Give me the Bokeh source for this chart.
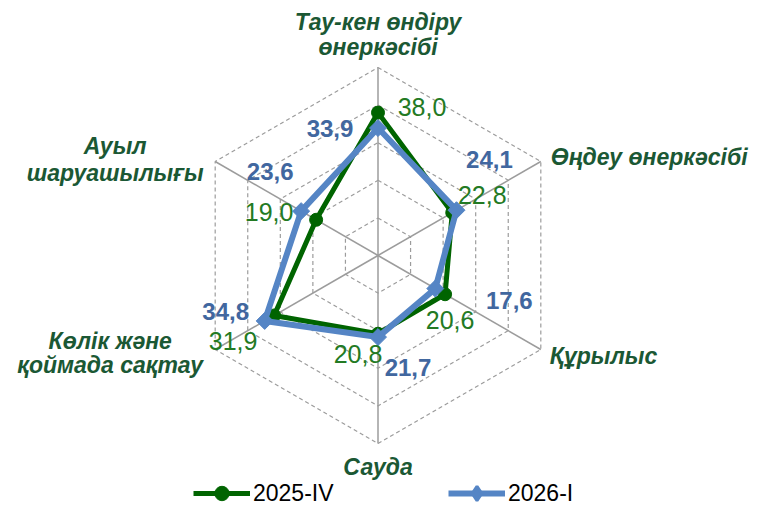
import numpy as np
from bokeh.plotting import figure
from bokeh.models import Legend, LegendItem
from bokeh.core.properties import value
from bokeh.embed import file_html
from bokeh.resources import INLINE

# ---- data ----
categories = ["Тау-кен өндіру\nөнеркәсібі", "Өңдеу өнеркәсібі", "Құрылыс",
              "Сауда", "Көлік және\nқоймада сақтау", "Ауыл\nшаруашылығы"]
series_names = ["2025-IV", "2026-I"]
values_2025_iv = [38.0, 22.8, 20.6, 20.8, 31.9, 19.0]
values_2026_i = [33.9, 24.1, 17.6, 21.7, 34.8, 23.6]
ring_ticks = [10, 20, 30, 40, 50]

# ---- layout / style ----
W, H = 759, 506
S = 3.76              # pixels per unit
CX, CY = 377.5, 255   # centre in figure pixels (from left, from top)
FONT = "Liberation Sans"
GREEN_LINE = "#006400"
BLUE_LINE = "#5585C5"
GREEN_TXT = "#237A23"
BLUE_TXT = "#41679F"
CAT_TXT = "#1B5834"
GRID = "#9C9C9C"

# pixel offsets (right, down) of value labels from their points
off_2025 = [(44, -6), (30, -18), (5, 26), (-20, 20), (-41, 26), (-47, -8)]
off_2026 = [(-48, 0), (33, -51), (74, 12), (30, 30), (-39, -9), (-31, -40)]
# category label: (dx, dy per line, align) from outer vertex
cat_off = [(0, [-46, -21], "center"), (10, [-5], "left"), (9, [6], "left"),
           (0, [23], "center"), (-105, [-9, 15], "center"), (-100, [-16, 11], "center")]

n = len(categories)
theta = np.pi / 2 - np.arange(n) * 2 * np.pi / n
rmax = max(ring_ticks)

p = figure(width=W, height=H, output_backend="svg", toolbar_location=None,
           x_range=(-CX / S, (W - CX) / S), y_range=(-(H - CY) / S, CY / S),
           min_border=0, outline_line_color=None)
p.axis.visible = False
p.grid.visible = False
p.background_fill_color = None
p.border_fill_color = "white"

# rings
for r in ring_ticks:
    xs = list(r * np.cos(theta)) + [r * np.cos(theta[0])]
    ys = list(r * np.sin(theta)) + [r * np.sin(theta[0])]
    p.line(xs, ys, line_color=GRID, line_width=1.2, line_dash="4 3")
# spokes
p.segment(x0=[0] * n, y0=[0] * n, x1=list(rmax * np.cos(theta)), y1=list(rmax * np.sin(theta)),
          line_color=GRID, line_width=1.5)

def closed(vals):
    v = np.array(vals)
    x = v * np.cos(theta)
    y = v * np.sin(theta)
    return list(x) + [x[0]], list(y) + [y[0]], x, y

gx, gy, gpx, gpy = closed(values_2025_iv)
bx, by, bpx, bpy = closed(values_2026_i)

gl = p.line(gx, gy, line_color=GREEN_LINE, line_width=5)
gs = p.scatter(list(gpx), list(gpy), marker="circle", size=13, fill_color=GREEN_LINE, line_color=GREEN_LINE)
bl = p.line(bx, by, line_color=BLUE_LINE, line_width=6)
# diamond renderer used for the legend glyph (hidden under the rotated squares)
bs_leg = p.scatter(list(bpx), list(bpy), marker="diamond", size=10, fill_color=BLUE_LINE,
                   line_color=BLUE_LINE, line_width=3)
bs = p.scatter(list(bpx), list(bpy), marker="square", angle=np.pi / 4, size=12,
               fill_color=BLUE_LINE, line_color=BLUE_LINE)

def fmt(v):
    return f"{v:.1f}".replace(".", ",")

# value labels
p.text(x=[gpx[i] + off_2025[i][0] / S for i in range(n)],
       y=[gpy[i] - off_2025[i][1] / S for i in range(n)],
       text=[fmt(v) for v in values_2025_iv], text_align="center", text_baseline="middle",
       text_font=value(FONT), text_font_size="25px", text_color=GREEN_TXT)
p.text(x=[bpx[i] + off_2026[i][0] / S for i in range(n)],
       y=[bpy[i] - off_2026[i][1] / S for i in range(n)],
       text=[fmt(v) for v in values_2026_i], text_align="center", text_baseline="middle",
       text_font=value(FONT), text_font_size="24px", text_font_style="bold", text_color=BLUE_TXT)

# category labels
for i, cat in enumerate(categories):
    dx, dys, align = cat_off[i]
    vx, vy = rmax * np.cos(theta[i]), rmax * np.sin(theta[i])
    lines = cat.split("\n")
    p.text(x=[vx + dx / S] * len(lines), y=[vy - d / S for d in dys], text=lines,
           text_align=align, text_baseline="middle", text_font=value(FONT),
           text_font_size="23px", text_font_style="bold italic", text_color=CAT_TXT)

legend = Legend(items=[LegendItem(label=series_names[0], renderers=[gl, gs]),
                       LegendItem(label=series_names[1], renderers=[bl, bs_leg])],
                orientation="horizontal", location=(193, -5), padding=0, margin=0,
                spacing=5, glyph_width=57, glyph_height=36, label_height=36,
                label_width=190, label_standoff=3,
                label_text_font=FONT, label_text_font_size="23px", label_text_color="black",
                border_line_color=None, background_fill_alpha=0)
p.add_layout(legend)

open("out.html", "w").write(file_html(p, INLINE))
